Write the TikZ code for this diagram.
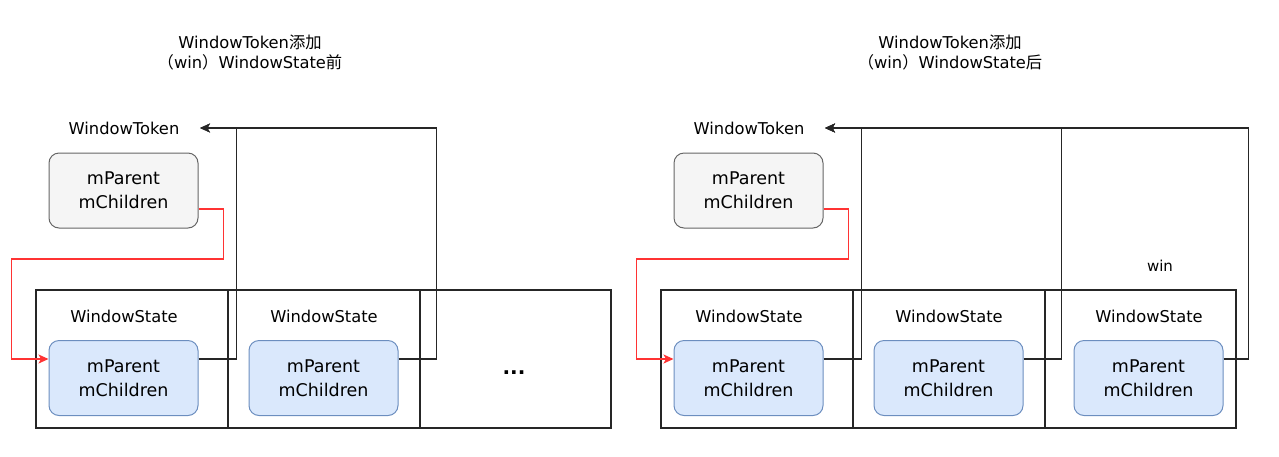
\documentclass[tikz,border=0pt]{standalone}
\usepackage{fontspec}
\setmainfont{DejaVu Sans}
\newfontfamily\cjk{Noto Sans CJK SC}
\usetikzlibrary{arrows.meta}
\definecolor{tokfill}{HTML}{F5F5F5}
\definecolor{tokline}{HTML}{666666}
\definecolor{chfill}{HTML}{DAE8FC}
\definecolor{chline}{HTML}{6C8EBF}
\definecolor{parentred}{HTML}{FF3333}
\begin{document}
\begin{tikzpicture}[
    x=1pt,y=-1pt,
    >={Stealth[length=10pt,width=9pt,inset=2.5pt]},
    lbl/.style={
        inner sep=0pt,
        font=\fontsize{16.3}{20}\selectfont
    },
    heading/.style={
        lbl,
        align=center
    },
    fieldbox/.style={
        rounded corners=10pt,
        minimum width=149pt,
        minimum height=75pt,
        align=center,
        line width=1pt,
        font=\fontsize{17.5}{24}\selectfont
    },
    tokbox/.style={
        fieldbox,
        draw=tokline,
        fill=tokfill
    },
    childbox/.style={
        fieldbox,
        draw=chline,
        fill=chfill
    },
    cell/.style={
        draw=black!85,
        line width=1.1pt,
        minimum width=192pt,
        minimum height=138pt,
        inner sep=0pt
    },
    link/.style={
        ->,
        draw=black!85,
        line width=1.2pt
    },
    parentlink/.style={
        ->,
        draw=parentred,
        line width=1.2pt
    }
    ]
    \useasboundingbox (0,0) rectangle (1279,456);

    % before
    \node[heading] (titleA) at (250,53) {WindowToken{\cjk 添加}\\{\cjk （}win{\cjk ）}WindowState{\cjk 前}};
    \node[lbl] (tokA) at (124,128) {WindowToken};
    \coordinate (tokinA) at (200,128);
    \node[tokbox] (tokboxA) at (123.5,190.5) {mParent\\mChildren};

    \node[cell] (wsA1) at (132,359) {};
    \node[cell] (wsA2) at (324,359) {};
    \node[cell,minimum width=191pt] (wsA3) at (515.5,359) {};
    \node[lbl] (wsA1lbl) at (124,316) {WindowState};
    \node[lbl] (wsA2lbl) at (324,316) {WindowState};
    \node[childbox] (chA1) at (123.5,378) {mParent\\mChildren};
    \node[childbox] (chA2) at (323.5,378) {mParent\\mChildren};
    \node[font=\fontsize{20}{20}\selectfont\bfseries] (moreA) at (514,373) {...};

    \draw[parentlink] ([yshift=-18.5pt]tokboxA.east) -- ++(25,0) -- ++(0,50) -- ++(-212,0) |- ([yshift=19pt]chA1.west);
    \draw[link] ([yshift=19pt]chA1.east) -- ++(38,0) |- (tokinA);
    \draw[link] ([yshift=19pt]chA2.east) -- ++(38,0) |- (tokinA);

    % after
    \node[heading] (titleB) at (950,53) {WindowToken{\cjk 添加}\\{\cjk （}win{\cjk ）}WindowState{\cjk 后}};
    \node[lbl] (tokB) at (749,128) {WindowToken};
    \coordinate (tokinB) at (825,128);
    \node[tokbox] (tokboxB) at (748.5,190.5) {mParent\\mChildren};

    \node[cell] (wsB1) at (757,359) {};
    \node[cell] (wsB2) at (949,359) {};
    \node[cell,minimum width=191pt] (wsB3) at (1140.5,359) {};
    \node[lbl] (wsB1lbl) at (749,316) {WindowState};
    \node[lbl] (wsB2lbl) at (949,316) {WindowState};
    \node[lbl] (wsB3lbl) at (1149,316) {WindowState};
    \node[childbox] (chB1) at (748.5,378) {mParent\\mChildren};
    \node[childbox] (chB2) at (948.5,378) {mParent\\mChildren};
    \node[childbox] (chB3) at (1148.5,378) {mParent\\mChildren};
    \node[lbl,font=\fontsize{15}{16}\selectfont] (winlbl) at (1160,266) {win};

    \draw[parentlink] ([yshift=-18.5pt]tokboxB.east) -- ++(25,0) -- ++(0,50) -- ++(-212,0) |- ([yshift=19pt]chB1.west);
    \draw[link] ([yshift=19pt]chB1.east) -- ++(38,0) |- (tokinB);
    \draw[link] ([yshift=19pt]chB2.east) -- ++(38,0) |- (tokinB);
    \draw[link] ([yshift=19pt]chB3.east) -- ++(25,0) |- (tokinB);
\end{tikzpicture}
\end{document}
